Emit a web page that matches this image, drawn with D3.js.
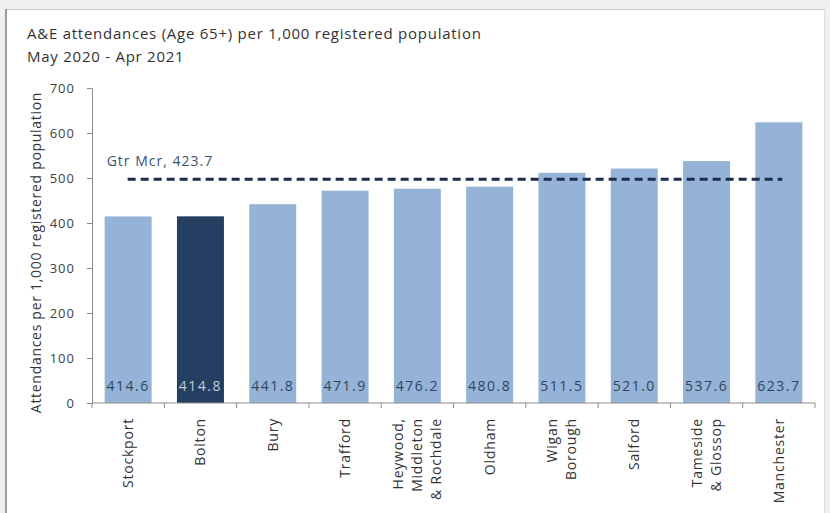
<!DOCTYPE html>
<html>
<head>
<meta charset="utf-8">
<script src="https://cdn.jsdelivr.net/npm/d3@7"></script>
<style>
  body { margin: 0; background: #f0f0f0; }
  svg { display: block; }
  text { font-family: 'Open Sans', 'Liberation Sans', sans-serif; }
</style>
</head>
<body>
<svg id="chart" width="830" height="513"></svg>
<script>
// data
const areas = ['Stockport', 'Bolton', 'Bury', 'Trafford', 'Heywood,|Middleton|& Rochdale', 'Oldham',
  'Wigan|Borough', 'Salford', 'Tameside|& Glossop', 'Manchester'];
const rates = [414.6, 414.8, 441.8, 471.9, 476.2, 480.8, 511.5, 521.0, 537.6, 623.7];
const highlight = ['Bolton'];
const yTicks = [0, 100, 200, 300, 400, 500, 600, 700];
const gtrLabel = 'Gtr Mcr, 423.7';
const gtrLineAt = 497; // where the dashed line sits on the chart

const svg = d3.select('#chart');
const m = {l: 92, r: 15, t: 88, b: 110};
const W = 830, H = 513;

// panel frame
svg.append('rect').attr('x', 0).attr('y', 0).attr('width', W).attr('height', H).attr('fill', '#f0f0f0');
svg.append('rect').attr('x', 6).attr('y', 9).attr('width', 818).attr('height', 510)
  .attr('fill', '#fff');
svg.append('line').attr('x1', 6).attr('x2', 824).attr('y1', 9.5).attr('y2', 9.5).attr('stroke', '#c4c4c4');
svg.append('line').attr('x1', 6).attr('x2', 6).attr('y1', 9).attr('y2', H).attr('stroke', '#9a9a9a').attr('stroke-width', 2);
svg.append('line').attr('x1', 824.5).attr('x2', 824.5).attr('y1', 9).attr('y2', H).attr('stroke', '#e0e0e0');

svg.append('text').attr('x', 27).attr('y', 39).attr('font-size', 15).attr('letter-spacing', 0.75).attr('fill', '#333')
  .text('A&E attendances (Age 65+) per 1,000 registered population');
svg.append('text').attr('x', 27).attr('y', 62).attr('font-size', 15).attr('letter-spacing', 0.75).attr('fill', '#333')
  .text('May 2020 - Apr 2021');

const x = d3.scaleBand().domain(areas).range([m.l, W - m.r]).paddingInner(0.35).paddingOuter(0.175);
const y = d3.scaleLinear().domain([0, 700]).range([H - m.b, m.t]);

const g = svg.append('g');

// y axis
const yAxis = g.append('g').attr('transform', `translate(${m.l},0)`)
  .call(d3.axisLeft(y).tickValues(yTicks).tickSize(5).tickSizeOuter(0).tickPadding(12));
yAxis.selectAll('path, line').attr('stroke', '#8c8c8c');
yAxis.selectAll('text').attr('font-size', 13).attr('letter-spacing', 1).attr('fill', '#404040')
  .attr('font-family', "'Open Sans', sans-serif");

svg.append('text')
  .attr('transform', `translate(41,${(m.t + H - m.b) / 2 + 7}) rotate(-90)`)
  .attr('text-anchor', 'middle').attr('font-size', 14).attr('letter-spacing', 0.7).attr('fill', '#333')
  .text('Attendances per 1,000 registered population');

// bars
g.selectAll('.bar').data(areas).enter().append('rect')
  .attr('class', 'bar')
  .attr('x', d => x(d))
  .attr('y', (d, i) => y(rates[i]))
  .attr('width', x.bandwidth())
  .attr('height', (d, i) => y(0) - y(rates[i]))
  .attr('fill', d => highlight.includes(d) ? '#243f61' : '#95b3d7');

g.selectAll('.val').data(areas).enter().append('text')
  .attr('class', 'val')
  .attr('x', d => x(d) + x.bandwidth() / 2)
  .attr('y', y(0) - 12)
  .attr('text-anchor', 'middle').attr('font-size', 14).attr('letter-spacing', 1.5)
  .attr('fill', d => highlight.includes(d) ? '#c3cad3' : '#2e4660')
  .text((d, i) => rates[i].toFixed(1));

// x axis
const xAxis = g.append('g').attr('transform', `translate(0,${y(0)})`);
xAxis.append('line').attr('x1', m.l).attr('x2', W - m.r).attr('stroke', '#8c8c8c');
xAxis.selectAll('.tk').data(d3.range(areas.length + 1)).enter().append('line')
  .attr('x1', i => m.l + i * (W - m.r - m.l) / areas.length)
  .attr('x2', i => m.l + i * (W - m.r - m.l) / areas.length)
  .attr('y1', 0).attr('y2', 5).attr('stroke', '#8c8c8c');

const lineH = 19;
const xl = xAxis.selectAll('.xl').data(areas).enter().append('text')
  .attr('class', 'xl')
  .attr('font-size', 14).attr('letter-spacing', 0.8).attr('fill', '#333')
  .attr('text-anchor', 'end')
  .attr('transform', d => {
    const n = d.split('|').length;
    const cx = x(d) + x.bandwidth() / 2 - (n - 1) * lineH / 2 + 5;
    return `translate(${cx},15) rotate(-90)`;
  });
xl.selectAll('tspan').data(d => d.split('|')).enter().append('tspan')
  .attr('x', 0).attr('dy', (d, i) => i === 0 ? 0 : lineH)
  .text(d => d);

// Gtr Mcr reference line
g.append('line')
  .attr('x1', x(areas[0]) + 23).attr('x2', x(areas[areas.length - 1]) + 27)
  .attr('y1', y(gtrLineAt)).attr('y2', y(gtrLineAt))
  .attr('stroke', '#1c2c4c').attr('stroke-width', 3).attr('stroke-dasharray', '8,5');
g.append('text').attr('x', x(areas[0]) + 2).attr('y', y(gtrLineAt) - 13)
  .attr('font-size', 14).attr('letter-spacing', 1).attr('fill', '#3a5270').text(gtrLabel);
</script>
</body>
</html>
